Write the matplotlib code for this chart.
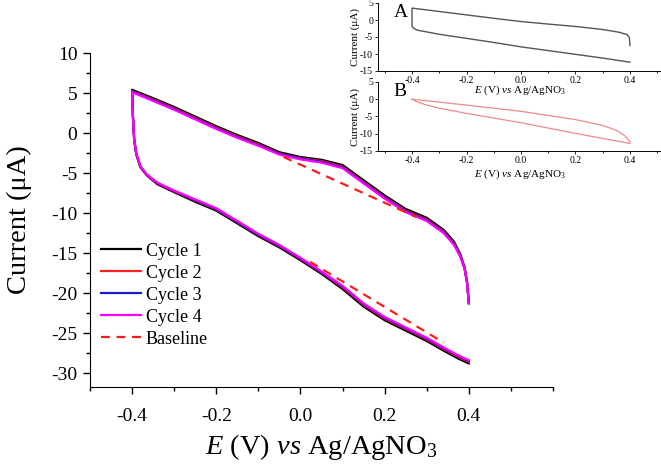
import matplotlib
matplotlib.use("Agg")
import matplotlib.pyplot as plt
from matplotlib.ticker import MultipleLocator

plt.rcParams['font.family'] = ['Liberation Serif', 'DejaVu Serif']
plt.rcParams['mathtext.fontset'] = 'custom'
plt.rcParams['mathtext.rm'] = 'Liberation Serif'
plt.rcParams['mathtext.it'] = 'Liberation Serif:italic'

# ---- main CV data: potential path (lower branch 0.4 -> -0.4, then upper branch -0.4 -> 0.4)
E_lower = [0.400, 0.375, 0.340, 0.300, 0.250, 0.200, 0.150, 0.100, 0.050, 0.000, -0.050,
           -0.100, -0.150, -0.200, -0.250, -0.300, -0.340, -0.365, -0.380, -0.390, -0.395,
           -0.398, -0.400]
E_upper = [-0.400, -0.350, -0.300, -0.250, -0.200, -0.150, -0.100, -0.050, 0.000, 0.050,
           0.100, 0.150, 0.200, 0.250, 0.300, 0.340, 0.365, 0.380, 0.390, 0.396, 0.400]

cycle1_lower = [-28.8, -28.2, -27.2, -26.0, -24.7, -23.4, -21.7, -19.5, -17.6, -15.9, -14.3,
                -12.9, -11.3, -9.7, -8.6, -7.4, -6.4, -5.3, -4.3, -2.7, -0.9, 2.1, 5.4]
cycle1_upper = [5.4, 4.35, 3.25, 2.05, 0.85, -0.25, -1.25, -2.4, -3.0, -3.35, -4.0, -5.9,
                -7.8, -9.5, -10.6, -12.1, -13.6, -15.2, -16.8, -18.7, -21.3]
cycle2_lower = [-28.6, -28.0, -27.0, -25.8, -24.5, -23.2, -21.5, -19.3, -17.45, -15.75, -14.15,
                -12.75, -11.15, -9.55, -8.45, -7.3, -6.3, -5.25, -4.25, -2.65, -0.85, 2.05, 5.25]
cycle2_upper = [5.25, 4.2, 3.1, 1.9, 0.7, -0.4, -1.4, -2.55, -3.15, -3.5, -4.2, -6.1, -8.0,
                -9.7, -10.8, -12.3, -13.8, -15.35, -16.9, -18.75, -21.25]
cycle3_lower = [-28.5, -27.9, -26.9, -25.7, -24.4, -23.1, -21.4, -19.2, -17.4, -15.7, -14.1,
                -12.7, -11.1, -9.5, -8.4, -7.25, -6.25, -5.2, -4.2, -2.6, -0.8, 2.0, 5.2]
cycle3_upper = [5.2, 4.1, 3.0, 1.8, 0.6, -0.5, -1.5, -2.6, -3.2, -3.6, -4.3, -6.2, -8.1,
                -9.8, -10.9, -12.4, -13.9, -15.4, -16.95, -18.8, -21.2]
cycle4_lower = [-28.4, -27.8, -26.8, -25.6, -24.3, -23.0, -21.3, -19.1, -17.3, -15.6, -14.0,
                -12.6, -11.0, -9.4, -8.3, -7.2, -6.2, -5.2, -4.2, -2.6, -0.8, 2.0, 5.1]
cycle4_upper = [5.1, 4.0, 2.9, 1.7, 0.5, -0.6, -1.6, -2.7, -3.3, -3.7, -4.4, -6.3, -8.2,
                -9.9, -11.0, -12.5, -14.0, -15.5, -17.0, -18.8, -21.2]

# baselines (dashed)
base_up_E = [-0.040, 0.275]
base_up_I = [-3.0, -10.5]
base_low_E = [0.023, 0.340]
base_low_I = [-16.1, -26.2]

# ---- inset A (blank electrode)
EA = [0.400, 0.300, 0.200, 0.100, 0.000, -0.100, -0.200, -0.300, -0.380, -0.395, -0.400,
      -0.400, -0.300, -0.200, -0.100, 0.000, 0.100, 0.200, 0.300, 0.360, 0.390, 0.398, 0.400]
IA = [-12.4, -11.2, -10.1, -9.0, -7.9, -6.6, -5.4, -4.2, -3.0, -2.4, -1.8,
      3.5, 2.5, 1.5, 0.5, -0.45, -1.2, -1.9, -2.8, -3.6, -4.3, -5.2, -7.5]

# ---- inset B
EB = [-0.400, -0.350, -0.200, 0.000, 0.200, 0.300, 0.350, 0.380, 0.400, 0.400, 0.200, 0.000,
      -0.200, -0.300, -0.350, -0.380, -0.400]
IB = [0.0, -0.4, -1.7, -3.5, -5.9, -7.6, -9.0, -10.5, -12.3, -12.8, -9.9, -6.8, -4.1, -2.6,
      -1.6, -0.8, 0.0]

labels = ["Cycle 1", "Cycle 2", "Cycle 3", "Cycle 4", "Baseline"]
colors = ["#000000", "#ff2020", "#1a1acc", "#ff00ff"]

W, H = 661, 468
fig = plt.figure(figsize=(W / 100, H / 100), dpi=100)

ax = fig.add_axes([90 / W, 1 - 387 / H, (553 - 90) / W, (387 - 53) / H])
cycles = [(cycle1_lower, cycle1_upper), (cycle2_lower, cycle2_upper),
          (cycle3_lower, cycle3_upper), (cycle4_lower, cycle4_upper)]
for (lo, up), c, lab in zip(cycles, colors, labels[:4]):
    ax.plot(E_lower + E_upper, lo + up, color=c, lw=1.6, label=lab,
            solid_joinstyle='round')
ax.plot(base_up_E, base_up_I, color="#ff1a1a", lw=1.6, ls=(0, (4, 3)), label=labels[4])
ax.plot(base_low_E, base_low_I, color="#ff1a1a", lw=1.6, ls=(0, (4, 3)))

ax.set_xlim(-0.5, 0.6)
ax.set_ylim(-31.75, 10)
ax.spines['top'].set_visible(False)
ax.spines['right'].set_visible(False)
ax.xaxis.set_minor_locator(MultipleLocator(0.1))
ax.yaxis.set_minor_locator(MultipleLocator(2.5))
ax.set_xticks([-0.4, -0.2, 0.0, 0.2, 0.4])
ax.set_xticklabels(["-0.4", "-0.2", "0.0", "0.2", "0.4"])
ax.set_yticks([10, 5, 0, -5, -10, -15, -20, -25, -30])
ax.set_yticklabels(["10", "5", "0", "-5", "-10", "-15", "-20", "-25", "-30"])
ax.tick_params(which='major', direction='out', length=5, width=1, labelsize=14)
ax.tick_params(axis='y', which='major', pad=4)
ax.tick_params(axis='x', which='major', pad=10)
ax.tick_params(which='minor', direction='out', length=3, width=1)
ax.set_xlabel(r"$E$ (V) $vs$ Ag/AgNO$_3$", fontsize=20.5, labelpad=5)
ax.set_ylabel("Current (μA)", fontsize=20.5, labelpad=14)
ax.legend(loc='upper left', bbox_to_anchor=(0.0, 0.465), frameon=False, fontsize=13,
          handlelength=2.2, handletextpad=0.3, labelspacing=0.28, borderaxespad=0.2)

# inset A
axA = fig.add_axes([378 / W, 1 - 71 / H, (W - 378) / W, 68 / H])
axA.plot(EA, IA, color="#555555", lw=1.0)
# inset B
axB = fig.add_axes([378 / W, 1 - 151 / H, (W - 378) / W, 69 / H])
axB.plot(EB, IB, color="#f08a8a", lw=0.9)

for a, letter, lp in [(axA, "A", -1), (axB, "B", 2)]:
    a.set_xlim(-0.525, 0.514)
    a.set_ylim(-15, 5)
    a.spines['top'].set_visible(False)
    a.spines['right'].set_visible(False)
    for s in ['left', 'bottom']:
        a.spines[s].set_linewidth(0.7)
    a.set_xticks([-0.4, -0.2, 0.0, 0.2, 0.4])
    a.set_xticklabels(["-0.4", "-0.2", "0.0", "0.2", "0.4"])
    a.xaxis.set_minor_locator(MultipleLocator(0.1))
    a.set_yticks([5, 0, -5, -10, -15])
    a.set_yticklabels(["5", "0", "-5", "-10", "-15"])
    a.tick_params(which='major', direction='out', length=2, width=0.6, labelsize=7, pad=1.5)
    a.tick_params(which='minor', direction='out', length=1.2, width=0.6)
    a.set_xlabel(r"$E$ (V) $vs$ Ag/AgNO$_3$", fontsize=8, labelpad=lp)
    a.set_ylabel("Current (μA)", fontsize=8, labelpad=0)
    a.text(0.055, 0.99, letter, transform=a.transAxes, fontsize=14, va='top', ha='left')
    a.patch.set_alpha(0)

fig.savefig("out.png", dpi=100)
